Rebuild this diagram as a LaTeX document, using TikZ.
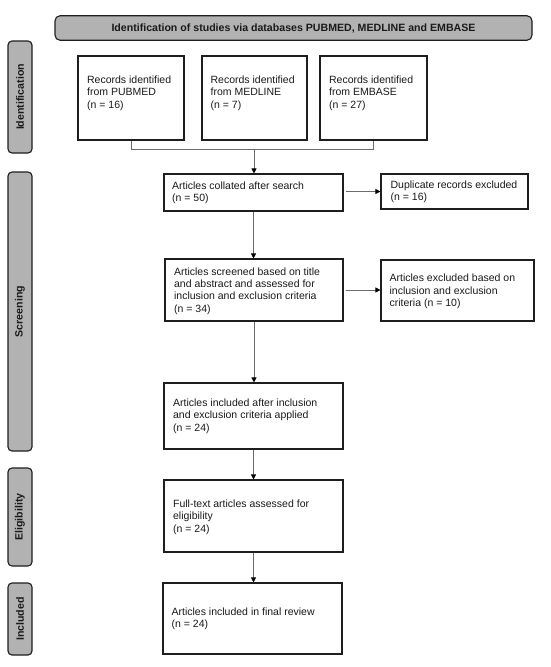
\documentclass[tikz,border=0pt]{standalone}
\usepackage{fontspec}
\setmainfont{Liberation Sans}
\usetikzlibrary{arrows.meta,calc}
\definecolor{edge}{HTML}{1E1E1E}
\definecolor{tabgray}{HTML}{B2B2B2}
\definecolor{linegray}{HTML}{6A6A6A}
\definecolor{txt}{HTML}{1A1A1A}
\begin{document}
\begin{tikzpicture}[x=1pt,y=-1pt,
  every node/.style={font=\fontsize{10.5}{12.3}\selectfont, text=txt},
  frame/.style={draw=edge, line width=1.1pt, fill=white, inner sep=0pt, rectangle},
  tab/.style={draw=edge, line width=1.1pt, fill=tabgray, rounded corners=4pt, inner sep=0pt,
    font=\fontsize{10.6}{12}\selectfont\bfseries},
  lbl/.style={align=left, inner sep=0pt, anchor=west},
  conn/.style={draw=linegray, line width=0.8pt},
  arr/.style={conn, -{Triangle[length=5pt,width=5pt,color=black]}}
]
\useasboundingbox (0,0) rectangle (550,667);

% title and side tabs
\node[tab, rounded corners=5pt, minimum width=477pt, minimum height=24.5pt] (title) at (293.5,28)
  {Identification of studies via databases PUBMED, MEDLINE and EMBASE};
\node[tab, rotate=90, minimum width=112pt, minimum height=24pt] (tid) at (20,97) {Identification};
\node[tab, rotate=90, minimum width=279pt, minimum height=24pt] (tsc) at (20,311.5) {Screening};
\node[tab, rotate=90, minimum width=98pt, minimum height=24pt] (tel) at (20,517) {Eligibility};
\node[tab, rotate=90, minimum width=72pt, minimum height=24pt] (tin) at (20,619) {Included};

% boxes
\node[frame, minimum width=106pt, minimum height=84pt] (pub) at (131,98) {};
\node[frame, minimum width=105pt, minimum height=84pt] (med) at (254.5,98) {};
\node[frame, minimum width=107pt, minimum height=84pt] (emb) at (373.5,98) {};
\node[frame, minimum width=179pt, minimum height=37pt] (coll) at (253.5,192.5) {};
\node[frame, minimum width=147pt, minimum height=35pt] (dup) at (454.5,191.5) {};
\node[frame, minimum width=178pt, minimum height=62pt] (scr) at (254,290) {};
\node[frame, minimum width=153pt, minimum height=61pt] (exc) at (457.5,290.5) {};
\node[frame, minimum width=179pt, minimum height=66pt] (inc) at (253.5,416) {};
\node[frame, minimum width=179pt, minimum height=72pt] (ful) at (253.5,516) {};
\node[frame, minimum width=179pt, minimum height=71pt] (fin) at (252.5,618.5) {};

% texts
\node[lbl] (pubt) at ($(pub.west)+(9.5,-5)$) {Records identified\\from PUBMED\\(n = 16)};
\node[lbl] (medt) at ($(med.west)+(9,-5)$) {Records identified\\from MEDLINE\\(n = 7)};
\node[lbl] (embt) at ($(emb.west)+(9.5,-5)$) {Records identified\\from EMBASE\\(n = 27)};
\node[lbl] (collt) at ($(coll.west)+(8.5,0.5)$) {Articles collated after search\\(n = 50)};
\node[lbl] (dupt) at ($(dup.west)+(10,0.5)$) {Duplicate records excluded\\(n = 16)};
\node[lbl] (scrt) at ($(scr.west)+(9.5,1)$) {Articles screened based on title\\and abstract and assessed for\\inclusion and exclusion criteria\\(n = 34)};
\node[lbl] (exct) at ($(exc.west)+(9,1)$) {Articles excluded based on\\inclusion and exclusion\\criteria (n = 10)};
\node[lbl] (inct) at ($(inc.west)+(9.5,0)$) {Articles included after inclusion\\and exclusion criteria applied\\(n = 24)};
\node[lbl] (fult) at ($(ful.west)+(9.5,1)$) {Full-text articles assessed for\\eligibility\\(n = 24)};
\node[lbl] (fint) at ($(fin.west)+(9,0)$) {Articles included in final review\\(n = 24)};

% connectors
\coordinate (jn) at (254,149);
\draw[conn] (pub.south) -- (pub.south |- jn) -| (emb.south);
\draw[arr] (jn) -- (jn |- coll.north);
\draw[arr, shorten <=2pt] (coll.east |- dup.west) -- (dup.west);
\draw[arr] (coll.south) -- (coll.south |- scr.north);
\draw[arr, shorten <=2pt] (scr.east) -- (scr.east -| exc.west);
\draw[arr] (scr.south) -- (scr.south |- inc.north);
\draw[arr] (inc.south) -- (inc.south |- ful.north);
\draw[arr] (ful.south) -- (ful.south |- fin.north);
\end{tikzpicture}
\end{document}
